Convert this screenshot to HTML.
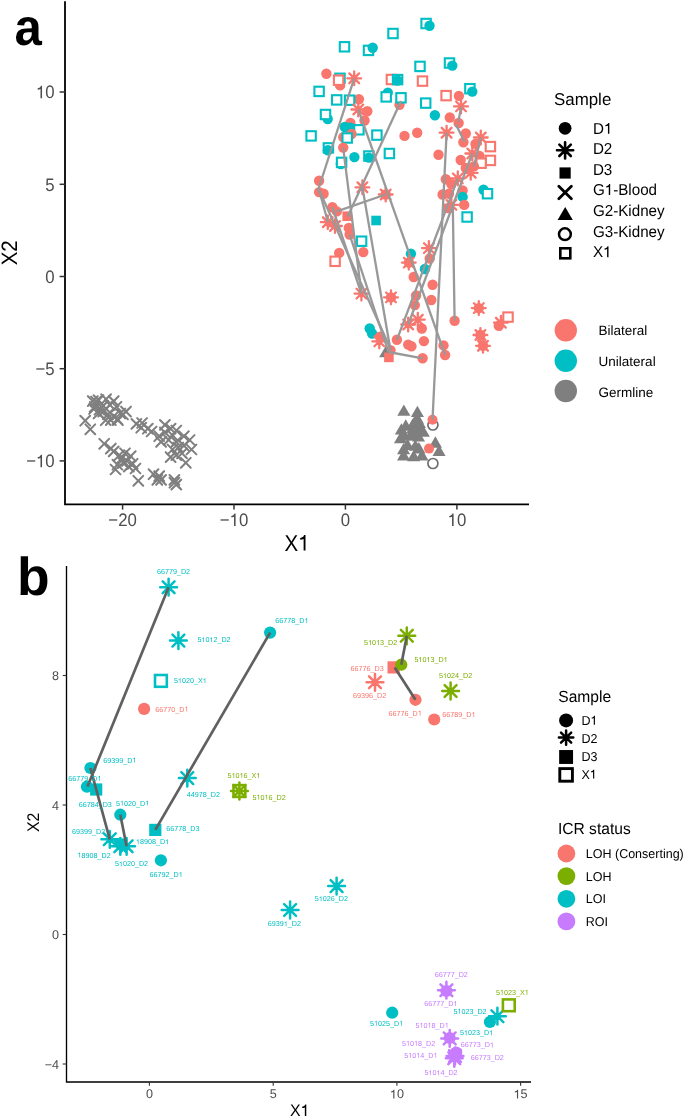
<!DOCTYPE html>
<html><head><meta charset="utf-8"><title>figure</title>
<style>
html,body{margin:0;padding:0;background:#fff;}
body{width:685px;height:1118px;overflow:hidden;}
svg{display:block;font-family:"Liberation Sans",sans-serif;will-change:transform;text-rendering:geometricPrecision;}
</style></head><body>
<svg width="685" height="1118" viewBox="0 0 685 1118">
<rect width="100%" height="100%" fill="#fff"/>
<g>
<path d="M87.9 396.2L97.7 406M87.9 406L97.7 396.2" stroke="#7F7F7F" stroke-width="2.05" fill="none" stroke-linecap="round"/>
<path d="M93.6 395.3L103.4 405.1M93.6 405.1L103.4 395.3" stroke="#7F7F7F" stroke-width="2.05" fill="none" stroke-linecap="round"/>
<path d="M101.2 394.3L111 404.1M101.2 404.1L111 394.3" stroke="#7F7F7F" stroke-width="2.05" fill="none" stroke-linecap="round"/>
<path d="M108.8 396.2L118.6 406M108.8 406L118.6 396.2" stroke="#7F7F7F" stroke-width="2.05" fill="none" stroke-linecap="round"/>
<path d="M89.8 401.9L99.6 411.7M89.8 411.7L99.6 401.9" stroke="#7F7F7F" stroke-width="2.05" fill="none" stroke-linecap="round"/>
<path d="M98.3 401L108.1 410.8M98.3 410.8L108.1 401" stroke="#7F7F7F" stroke-width="2.05" fill="none" stroke-linecap="round"/>
<path d="M105 400L114.8 409.8M105 409.8L114.8 400" stroke="#7F7F7F" stroke-width="2.05" fill="none" stroke-linecap="round"/>
<path d="M111.6 401.9L121.4 411.7M111.6 411.7L121.4 401.9" stroke="#7F7F7F" stroke-width="2.05" fill="none" stroke-linecap="round"/>
<path d="M98.3 406.7L108.1 416.5M98.3 416.5L108.1 406.7" stroke="#7F7F7F" stroke-width="2.05" fill="none" stroke-linecap="round"/>
<path d="M103.1 409.5L112.9 419.3M103.1 419.3L112.9 409.5" stroke="#7F7F7F" stroke-width="2.05" fill="none" stroke-linecap="round"/>
<path d="M108.8 411.4L118.6 421.2M108.8 421.2L118.6 411.4" stroke="#7F7F7F" stroke-width="2.05" fill="none" stroke-linecap="round"/>
<path d="M115.4 408.6L125.2 418.4M115.4 418.4L125.2 408.6" stroke="#7F7F7F" stroke-width="2.05" fill="none" stroke-linecap="round"/>
<path d="M121.1 406.7L130.9 416.5M121.1 416.5L130.9 406.7" stroke="#7F7F7F" stroke-width="2.05" fill="none" stroke-linecap="round"/>
<path d="M94.5 404.8L104.3 414.6M94.5 414.6L104.3 404.8" stroke="#7F7F7F" stroke-width="2.05" fill="none" stroke-linecap="round"/>
<path d="M105.9 415.2L115.7 425M105.9 425L115.7 415.2" stroke="#7F7F7F" stroke-width="2.05" fill="none" stroke-linecap="round"/>
<path d="M112.5 414.3L122.3 424.1M112.5 424.1L122.3 414.3" stroke="#7F7F7F" stroke-width="2.05" fill="none" stroke-linecap="round"/>
<path d="M80.3 415.8L90.1 425.6M80.3 425.6L90.1 415.8" stroke="#7F7F7F" stroke-width="2.05" fill="none" stroke-linecap="round"/>
<path d="M85.4 424.4L95.2 434.2M85.4 434.2L95.2 424.4" stroke="#7F7F7F" stroke-width="2.05" fill="none" stroke-linecap="round"/>
<path d="M89.1 404.1L98.9 413.9M89.1 413.9L98.9 404.1" stroke="#7F7F7F" stroke-width="2.05" fill="none" stroke-linecap="round"/>
<path d="M91.1 396.6L100.9 406.4M91.1 406.4L100.9 396.6" stroke="#7F7F7F" stroke-width="2.05" fill="none" stroke-linecap="round"/>
<path d="M93.6 408.6L103.4 418.4M93.6 418.4L103.4 408.6" stroke="#7F7F7F" stroke-width="2.05" fill="none" stroke-linecap="round"/>
<path d="M100.8 415.3L110.6 425.1M100.8 425.1L110.6 415.3" stroke="#7F7F7F" stroke-width="2.05" fill="none" stroke-linecap="round"/>
<path d="M113 415.3L122.8 425.1M113 425.1L122.8 415.3" stroke="#7F7F7F" stroke-width="2.05" fill="none" stroke-linecap="round"/>
<path d="M118.1 409.6L127.9 419.4M118.1 419.4L127.9 409.6" stroke="#7F7F7F" stroke-width="2.05" fill="none" stroke-linecap="round"/>
<path d="M131.5 419L141.3 428.8M131.5 428.8L141.3 419" stroke="#7F7F7F" stroke-width="2.05" fill="none" stroke-linecap="round"/>
<path d="M137.2 418.1L147 427.9M137.2 427.9L147 418.1" stroke="#7F7F7F" stroke-width="2.05" fill="none" stroke-linecap="round"/>
<path d="M136.3 422.8L146.1 432.6M136.3 432.6L146.1 422.8" stroke="#7F7F7F" stroke-width="2.05" fill="none" stroke-linecap="round"/>
<path d="M142.9 423.8L152.7 433.6M142.9 433.6L152.7 423.8" stroke="#7F7F7F" stroke-width="2.05" fill="none" stroke-linecap="round"/>
<path d="M146.7 426.6L156.5 436.4M146.7 436.4L156.5 426.6" stroke="#7F7F7F" stroke-width="2.05" fill="none" stroke-linecap="round"/>
<path d="M154.3 431.3L164.1 441.1M154.3 441.1L164.1 431.3" stroke="#7F7F7F" stroke-width="2.05" fill="none" stroke-linecap="round"/>
<path d="M160 420L169.8 429.8M160 429.8L169.8 420" stroke="#7F7F7F" stroke-width="2.05" fill="none" stroke-linecap="round"/>
<path d="M165.7 423.8L175.5 433.6M165.7 433.6L175.5 423.8" stroke="#7F7F7F" stroke-width="2.05" fill="none" stroke-linecap="round"/>
<path d="M156.2 437L166 446.8M156.2 446.8L166 437" stroke="#7F7F7F" stroke-width="2.05" fill="none" stroke-linecap="round"/>
<path d="M160 427.5L169.8 437.3M160 437.3L169.8 427.5" stroke="#7F7F7F" stroke-width="2.05" fill="none" stroke-linecap="round"/>
<path d="M167.6 430.4L177.4 440.2M167.6 440.2L177.4 430.4" stroke="#7F7F7F" stroke-width="2.05" fill="none" stroke-linecap="round"/>
<path d="M171.4 425.6L181.2 435.4M171.4 435.4L181.2 425.6" stroke="#7F7F7F" stroke-width="2.05" fill="none" stroke-linecap="round"/>
<path d="M163.8 435.1L173.6 444.9M163.8 444.9L173.6 435.1" stroke="#7F7F7F" stroke-width="2.05" fill="none" stroke-linecap="round"/>
<path d="M171.4 437L181.2 446.8M171.4 446.8L181.2 437" stroke="#7F7F7F" stroke-width="2.05" fill="none" stroke-linecap="round"/>
<path d="M179 431.3L188.8 441.1M179 441.1L188.8 431.3" stroke="#7F7F7F" stroke-width="2.05" fill="none" stroke-linecap="round"/>
<path d="M184.7 435.1L194.5 444.9M184.7 444.9L194.5 435.1" stroke="#7F7F7F" stroke-width="2.05" fill="none" stroke-linecap="round"/>
<path d="M167.6 444.6L177.4 454.4M167.6 454.4L177.4 444.6" stroke="#7F7F7F" stroke-width="2.05" fill="none" stroke-linecap="round"/>
<path d="M173.3 442.7L183.1 452.5M173.3 452.5L183.1 442.7" stroke="#7F7F7F" stroke-width="2.05" fill="none" stroke-linecap="round"/>
<path d="M179 440.8L188.8 450.6M179 450.6L188.8 440.8" stroke="#7F7F7F" stroke-width="2.05" fill="none" stroke-linecap="round"/>
<path d="M186.6 444.6L196.4 454.4M186.6 454.4L196.4 444.6" stroke="#7F7F7F" stroke-width="2.05" fill="none" stroke-linecap="round"/>
<path d="M171.4 450.3L181.2 460.1M171.4 460.1L181.2 450.3" stroke="#7F7F7F" stroke-width="2.05" fill="none" stroke-linecap="round"/>
<path d="M177.1 448.4L186.9 458.2M177.1 458.2L186.9 448.4" stroke="#7F7F7F" stroke-width="2.05" fill="none" stroke-linecap="round"/>
<path d="M180.9 457.9L190.7 467.7M180.9 467.7L190.7 457.9" stroke="#7F7F7F" stroke-width="2.05" fill="none" stroke-linecap="round"/>
<path d="M165.7 452.2L175.5 462M165.7 462L175.5 452.2" stroke="#7F7F7F" stroke-width="2.05" fill="none" stroke-linecap="round"/>
<path d="M99.3 438.9L109.1 448.7M99.3 448.7L109.1 438.9" stroke="#7F7F7F" stroke-width="2.05" fill="none" stroke-linecap="round"/>
<path d="M105.9 443.7L115.7 453.5M105.9 453.5L115.7 443.7" stroke="#7F7F7F" stroke-width="2.05" fill="none" stroke-linecap="round"/>
<path d="M108.8 446.5L118.6 456.3M108.8 456.3L118.6 446.5" stroke="#7F7F7F" stroke-width="2.05" fill="none" stroke-linecap="round"/>
<path d="M114.4 450.3L124.2 460.1M114.4 460.1L124.2 450.3" stroke="#7F7F7F" stroke-width="2.05" fill="none" stroke-linecap="round"/>
<path d="M120.1 448.4L129.9 458.2M120.1 458.2L129.9 448.4" stroke="#7F7F7F" stroke-width="2.05" fill="none" stroke-linecap="round"/>
<path d="M125.8 451.3L135.6 461.1M125.8 461.1L135.6 451.3" stroke="#7F7F7F" stroke-width="2.05" fill="none" stroke-linecap="round"/>
<path d="M116.3 454.1L126.1 463.9M116.3 463.9L126.1 454.1" stroke="#7F7F7F" stroke-width="2.05" fill="none" stroke-linecap="round"/>
<path d="M122 456L131.8 465.8M122 465.8L131.8 456" stroke="#7F7F7F" stroke-width="2.05" fill="none" stroke-linecap="round"/>
<path d="M112.5 459.8L122.3 469.6M112.5 469.6L122.3 459.8" stroke="#7F7F7F" stroke-width="2.05" fill="none" stroke-linecap="round"/>
<path d="M118.2 457.9L128 467.7M118.2 467.7L128 457.9" stroke="#7F7F7F" stroke-width="2.05" fill="none" stroke-linecap="round"/>
<path d="M127.7 458.9L137.5 468.7M127.7 468.7L137.5 458.9" stroke="#7F7F7F" stroke-width="2.05" fill="none" stroke-linecap="round"/>
<path d="M110.6 464.6L120.4 474.4M110.6 474.4L120.4 464.6" stroke="#7F7F7F" stroke-width="2.05" fill="none" stroke-linecap="round"/>
<path d="M123.9 461.7L133.7 471.5M123.9 471.5L133.7 461.7" stroke="#7F7F7F" stroke-width="2.05" fill="none" stroke-linecap="round"/>
<path d="M130.6 463.6L140.4 473.4M130.6 473.4L140.4 463.6" stroke="#7F7F7F" stroke-width="2.05" fill="none" stroke-linecap="round"/>
<path d="M133.4 475.9L143.2 485.7M133.4 485.7L143.2 475.9" stroke="#7F7F7F" stroke-width="2.05" fill="none" stroke-linecap="round"/>
<path d="M148.6 469.3L158.4 479.1M148.6 479.1L158.4 469.3" stroke="#7F7F7F" stroke-width="2.05" fill="none" stroke-linecap="round"/>
<path d="M154.3 471.2L164.1 481M154.3 481L164.1 471.2" stroke="#7F7F7F" stroke-width="2.05" fill="none" stroke-linecap="round"/>
<path d="M156.2 475L166 484.8M156.2 484.8L166 475" stroke="#7F7F7F" stroke-width="2.05" fill="none" stroke-linecap="round"/>
<path d="M152.4 475L162.2 484.8M152.4 484.8L162.2 475" stroke="#7F7F7F" stroke-width="2.05" fill="none" stroke-linecap="round"/>
<path d="M169.5 475L179.3 484.8M169.5 484.8L179.3 475" stroke="#7F7F7F" stroke-width="2.05" fill="none" stroke-linecap="round"/>
<path d="M171.4 479.7L181.2 489.5M171.4 489.5L181.2 479.7" stroke="#7F7F7F" stroke-width="2.05" fill="none" stroke-linecap="round"/>
<path d="M169.5 477.8L179.3 487.6M169.5 487.6L179.3 477.8" stroke="#7F7F7F" stroke-width="2.05" fill="none" stroke-linecap="round"/>
<path d="M403.84 404.38L410.39 415.78L397.29 415.78Z" fill="#7F7F7F"/>
<path d="M417.42 405.69L423.97 417.09L410.87 417.09Z" fill="#7F7F7F"/>
<path d="M419.34 416.64L425.89 428.04L412.79 428.04Z" fill="#7F7F7F"/>
<path d="M423.28 425.4L429.83 436.8L416.73 436.8Z" fill="#7F7F7F"/>
<path d="M405.77 419.27L412.32 430.67L399.22 430.67Z" fill="#7F7F7F"/>
<path d="M401.39 423.21L407.94 434.61L394.84 434.61Z" fill="#7F7F7F"/>
<path d="M412.77 421.9L419.32 433.3L406.22 433.3Z" fill="#7F7F7F"/>
<path d="M400.51 431.97L407.06 443.37L393.96 443.37Z" fill="#7F7F7F"/>
<path d="M413.65 428.9L420.2 440.3L407.1 440.3Z" fill="#7F7F7F"/>
<path d="M407.52 438.54L414.07 449.94L400.97 449.94Z" fill="#7F7F7F"/>
<path d="M403.58 442.92L410.13 454.32L397.03 454.32Z" fill="#7F7F7F"/>
<path d="M403.58 449.05L410.13 460.45L397.03 460.45Z" fill="#7F7F7F"/>
<path d="M415.4 439.41L421.95 450.81L408.85 450.81Z" fill="#7F7F7F"/>
<path d="M421.97 449.05L428.52 460.45L415.42 460.45Z" fill="#7F7F7F"/>
<path d="M413.65 449.93L420.2 461.33L407.1 461.33Z" fill="#7F7F7F"/>
<path d="M435.37 436.35L441.92 447.75L428.82 447.75Z" fill="#7F7F7F"/>
<path d="M439.05 444.67L445.6 456.07L432.5 456.07Z" fill="#7F7F7F"/>
<path d="M418.9 442.04L425.45 453.44L412.35 453.44Z" fill="#7F7F7F"/>
<path d="M417.4 412.3L423.95 423.7L410.85 423.7Z" fill="#7F7F7F"/>
<path d="M404 428.9L410.55 440.3L397.45 440.3Z" fill="#7F7F7F"/>
<path d="M415 415L421.55 426.4L408.45 426.4Z" fill="#7F7F7F"/>
<path d="M412.7 418.5L419.25 429.9L406.15 429.9Z" fill="#7F7F7F"/>
<path d="M418.5 418.5L425.05 429.9L411.95 429.9Z" fill="#7F7F7F"/>
<path d="M415 424.4L421.55 435.8L408.45 435.8Z" fill="#7F7F7F"/>
<path d="M420.9 424.4L427.45 435.8L414.35 435.8Z" fill="#7F7F7F"/>
<path d="M410.4 429.1L416.95 440.5L403.85 440.5Z" fill="#7F7F7F"/>
<path d="M418.5 430.2L425.05 441.6L411.95 441.6Z" fill="#7F7F7F"/>
<circle cx="432.9" cy="425" r="5" fill="none" stroke="#6f6f6f" stroke-width="1.7"/>
<circle cx="432.9" cy="463.5" r="5" fill="none" stroke="#6f6f6f" stroke-width="1.7"/>
<circle cx="432.5" cy="419.7" r="5" fill="#F8766D"/>
<circle cx="429" cy="448.6" r="5" fill="#F8766D"/>
<rect x="421.4" y="18.8" width="9.4" height="9.4" fill="#fff" stroke="#00BFC4" stroke-width="2.1"/>
<circle cx="429.5" cy="25.7" r="5.2" fill="#00BFC4"/>
<rect x="388.3" y="28.8" width="9.4" height="9.4" fill="#fff" stroke="#00BFC4" stroke-width="2.1"/>
<rect x="339.8" y="42.1" width="9.4" height="9.4" fill="#fff" stroke="#00BFC4" stroke-width="2.1"/>
<rect x="363.8" y="45.7" width="9.4" height="9.4" fill="#fff" stroke="#00BFC4" stroke-width="2.1"/>
<circle cx="372.7" cy="47.8" r="5.2" fill="#00BFC4"/>
<rect x="415.3" y="61.7" width="9.4" height="9.4" fill="#fff" stroke="#00BFC4" stroke-width="2.1"/>
<rect x="444.8" y="58.3" width="9.4" height="9.4" fill="#fff" stroke="#00BFC4" stroke-width="2.1"/>
<circle cx="452.3" cy="65.6" r="5.2" fill="#00BFC4"/>
<circle cx="326.4" cy="73.7" r="5.2" fill="#F8766D"/>
<rect x="335.3" y="73.6" width="9.4" height="9.4" fill="#fff" stroke="#00BFC4" stroke-width="2.1"/>
<circle cx="340.1" cy="85.4" r="5.2" fill="#F8766D"/>
<rect x="333.9" y="75.5" width="9.4" height="9.4" fill="#fff" stroke="#F8766D" stroke-width="2.1"/>
<path d="M347.3 78.3H361.1M354.2 71.4V85.2M349.32 73.42L359.08 83.18M349.32 83.18L359.08 73.42" stroke="#F8766D" stroke-width="2.3" fill="none" stroke-linecap="round"/>
<rect x="386.7" y="74.8" width="9.4" height="9.4" fill="#fff" stroke="#F8766D" stroke-width="2.1"/>
<rect x="392.9" y="74.9" width="9.4" height="9.4" fill="#fff" stroke="#00BFC4" stroke-width="2.1"/>
<circle cx="397.4" cy="80.5" r="5.2" fill="#00BFC4"/>
<rect x="417.8" y="76.4" width="9.4" height="9.4" fill="#fff" stroke="#F8766D" stroke-width="2.1"/>
<rect x="314.4" y="86.7" width="9.4" height="9.4" fill="#fff" stroke="#00BFC4" stroke-width="2.1"/>
<circle cx="358.9" cy="99.2" r="5.2" fill="#F8766D"/>
<rect x="332" y="95.2" width="9.4" height="9.4" fill="#fff" stroke="#00BFC4" stroke-width="2.1"/>
<rect x="344.9" y="95.5" width="9.4" height="9.4" fill="#fff" stroke="#00BFC4" stroke-width="2.1"/>
<circle cx="387.8" cy="92.6" r="5.2" fill="#00BFC4"/>
<rect x="381.5" y="92.2" width="9.4" height="9.4" fill="#fff" stroke="#00BFC4" stroke-width="2.1"/>
<circle cx="399.5" cy="104.7" r="5.2" fill="#F8766D"/>
<rect x="396.3" y="93.1" width="9.4" height="9.4" fill="#fff" stroke="#00BFC4" stroke-width="2.1"/>
<path d="M351.4 109.5H365.2M358.3 102.6V116.4M353.42 104.62L363.18 114.38M353.42 114.38L363.18 104.62" stroke="#F8766D" stroke-width="2.3" fill="none" stroke-linecap="round"/>
<circle cx="367.3" cy="111.2" r="5.2" fill="#F8766D"/>
<circle cx="364.5" cy="120.5" r="5.2" fill="#F8766D"/>
<circle cx="327.7" cy="119" r="5.2" fill="#00BFC4"/>
<rect x="320.8" y="109.8" width="9.4" height="9.4" fill="#fff" stroke="#00BFC4" stroke-width="2.1"/>
<rect x="441.4" y="90.9" width="9.4" height="9.4" fill="#fff" stroke="#F8766D" stroke-width="2.1"/>
<circle cx="458.9" cy="95.9" r="5.2" fill="#F8766D"/>
<rect x="465.2" y="84" width="9.4" height="9.4" fill="#fff" stroke="#00BFC4" stroke-width="2.1"/>
<circle cx="472.3" cy="91.6" r="5.2" fill="#00BFC4"/>
<rect x="421" y="98.4" width="9.4" height="9.4" fill="#fff" stroke="#00BFC4" stroke-width="2.1"/>
<circle cx="434.9" cy="115.2" r="5.2" fill="#00BFC4"/>
<path d="M454.1 106.4H467.9M461 99.5V113.3M456.12 101.52L465.88 111.28M456.12 111.28L465.88 101.52" stroke="#F8766D" stroke-width="2.3" fill="none" stroke-linecap="round"/>
<circle cx="449.8" cy="117.5" r="5.2" fill="#F8766D"/>
<circle cx="458.6" cy="123" r="5.2" fill="#F8766D"/>
<circle cx="350.4" cy="123" r="5.2" fill="#F8766D"/>
<circle cx="344.8" cy="127" r="5.2" fill="#00BFC4"/>
<circle cx="350.4" cy="127.8" r="5.2" fill="#00BFC4"/>
<rect x="354.2" y="125.1" width="9.4" height="9.4" fill="#fff" stroke="#00BFC4" stroke-width="2.1"/>
<rect x="306.4" y="131.2" width="9.4" height="9.4" fill="#fff" stroke="#00BFC4" stroke-width="2.1"/>
<circle cx="351.5" cy="134" r="5.2" fill="#F8766D"/>
<circle cx="343.3" cy="137.3" r="5.2" fill="#F8766D"/>
<rect x="342.5" y="133.3" width="9.4" height="9.4" fill="#fff" stroke="#00BFC4" stroke-width="2.1"/>
<rect x="372.2" y="130.4" width="9.4" height="9.4" fill="#fff" stroke="#00BFC4" stroke-width="2.1"/>
<circle cx="404.5" cy="135.9" r="5.2" fill="#F8766D"/>
<rect x="323.7" y="143.2" width="9.4" height="9.4" fill="#fff" stroke="#00BFC4" stroke-width="2.1"/>
<circle cx="327.9" cy="150.3" r="5.2" fill="#00BFC4"/>
<circle cx="343.2" cy="147.6" r="5.2" fill="#F8766D"/>
<circle cx="354.4" cy="157.1" r="5.2" fill="#00BFC4"/>
<rect x="364.2" y="151.3" width="9.4" height="9.4" fill="#fff" stroke="#00BFC4" stroke-width="2.1"/>
<circle cx="368.9" cy="157.6" r="5.2" fill="#00BFC4"/>
<circle cx="340.8" cy="164" r="5.2" fill="#00BFC4"/>
<rect x="336.9" y="157.7" width="9.4" height="9.4" fill="#fff" stroke="#00BFC4" stroke-width="2.1"/>
<rect x="384.7" y="148.8" width="9.4" height="9.4" fill="#fff" stroke="#00BFC4" stroke-width="2.1"/>
<circle cx="319.1" cy="180.8" r="5.2" fill="#F8766D"/>
<circle cx="319.1" cy="192.1" r="5.2" fill="#F8766D"/>
<circle cx="323.6" cy="193.7" r="5.2" fill="#F8766D"/>
<path d="M355.5 187.3H369.3M362.4 180.4V194.2M357.52 182.42L367.28 192.18M357.52 192.18L367.28 182.42" stroke="#F8766D" stroke-width="2.3" fill="none" stroke-linecap="round"/>
<circle cx="385.7" cy="194.5" r="5.2" fill="#F8766D"/>
<path d="M378.8 194.5H392.6M385.7 187.6V201.4M380.82 189.62L390.58 199.38M380.82 199.38L390.58 189.62" stroke="#F8766D" stroke-width="2.3" fill="none" stroke-linecap="round"/>
<circle cx="332.4" cy="207.3" r="5.2" fill="#F8766D"/>
<circle cx="336.8" cy="211.4" r="5.2" fill="#F8766D"/>
<rect x="342.4" y="211.4" width="9.6" height="9.6" fill="#F8766D"/>
<rect x="371.3" y="215.7" width="9.6" height="9.6" fill="#00BFC4"/>
<path d="M320.9 222.2H334.7M327.8 215.3V229.1M322.92 217.32L332.68 227.08M322.92 227.08L332.68 217.32" stroke="#F8766D" stroke-width="2.3" fill="none" stroke-linecap="round"/>
<path d="M328.1 226H341.9M335 219.1V232.9M330.12 221.12L339.88 230.88M330.12 230.88L339.88 221.12" stroke="#F8766D" stroke-width="2.3" fill="none" stroke-linecap="round"/>
<circle cx="417.2" cy="132.7" r="5.2" fill="#F8766D"/>
<path d="M439.7 132.7H453.5M446.6 125.8V139.6M441.72 127.82L451.48 137.58M441.72 137.58L451.48 127.82" stroke="#F8766D" stroke-width="2.3" fill="none" stroke-linecap="round"/>
<circle cx="465.8" cy="133.5" r="5.2" fill="#F8766D"/>
<circle cx="463.4" cy="142.3" r="5.2" fill="#F8766D"/>
<path d="M473.9 137.5H487.7M480.8 130.6V144.4M475.92 132.62L485.68 142.38M475.92 142.38L485.68 132.62" stroke="#F8766D" stroke-width="2.3" fill="none" stroke-linecap="round"/>
<circle cx="475.5" cy="143.9" r="5.2" fill="#F8766D"/>
<rect x="485.7" y="141.9" width="9.4" height="9.4" fill="#fff" stroke="#F8766D" stroke-width="2.1"/>
<circle cx="438.5" cy="154.8" r="5.2" fill="#F8766D"/>
<path d="M465.4 153.5H479.2M472.3 146.6V160.4M467.42 148.62L477.18 158.38M467.42 158.38L477.18 148.62" stroke="#F8766D" stroke-width="2.3" fill="none" stroke-linecap="round"/>
<circle cx="460.7" cy="160" r="5.2" fill="#F8766D"/>
<circle cx="479.5" cy="156" r="5.2" fill="#F8766D"/>
<rect x="485.7" y="155.7" width="9.4" height="9.4" fill="#fff" stroke="#F8766D" stroke-width="2.1"/>
<rect x="476.4" y="158.5" width="9.4" height="9.4" fill="#fff" stroke="#F8766D" stroke-width="2.1"/>
<circle cx="465.8" cy="168" r="5.2" fill="#F8766D"/>
<path d="M463.8 172.8H477.6M470.7 165.9V179.7M465.82 167.92L475.58 177.68M465.82 177.68L475.58 167.92" stroke="#F8766D" stroke-width="2.3" fill="none" stroke-linecap="round"/>
<circle cx="473.9" cy="166.4" r="5.2" fill="#F8766D"/>
<circle cx="445.8" cy="179.2" r="5.2" fill="#F8766D"/>
<path d="M450.9 178.4H464.7M457.8 171.5V185.3M452.92 173.52L462.68 183.28M452.92 183.28L462.68 173.52" stroke="#F8766D" stroke-width="2.3" fill="none" stroke-linecap="round"/>
<circle cx="451.4" cy="184" r="5.2" fill="#F8766D"/>
<circle cx="462.6" cy="190.5" r="5.2" fill="#F8766D"/>
<circle cx="442.6" cy="194.5" r="5.2" fill="#F8766D"/>
<circle cx="449" cy="193.7" r="5.2" fill="#F8766D"/>
<circle cx="462.6" cy="196.9" r="5.2" fill="#00BFC4"/>
<circle cx="483.5" cy="189.7" r="5.2" fill="#00BFC4"/>
<rect x="482.8" y="189" width="9.4" height="9.4" fill="#fff" stroke="#00BFC4" stroke-width="2.1"/>
<path d="M444.5 204.9H458.3M451.4 198V211.8M446.52 200.02L456.28 209.78M446.52 209.78L456.28 200.02" stroke="#F8766D" stroke-width="2.3" fill="none" stroke-linecap="round"/>
<circle cx="464.2" cy="204.9" r="5.2" fill="#F8766D"/>
<rect x="462.4" y="212.3" width="9.4" height="9.4" fill="#fff" stroke="#00BFC4" stroke-width="2.1"/>
<circle cx="448.2" cy="208.1" r="5.2" fill="#F8766D"/>
<circle cx="348.8" cy="228" r="5.2" fill="#F8766D"/>
<circle cx="349.6" cy="234.5" r="5.2" fill="#F8766D"/>
<rect x="356.9" y="236.5" width="9.4" height="9.4" fill="#fff" stroke="#00BFC4" stroke-width="2.1"/>
<circle cx="339.2" cy="252.9" r="5.2" fill="#F8766D"/>
<rect x="330.4" y="256.6" width="9.4" height="9.4" fill="#fff" stroke="#F8766D" stroke-width="2.1"/>
<circle cx="363.3" cy="252.1" r="5.2" fill="#F8766D"/>
<path d="M354.5 293.6H368.3M361.4 286.7V300.5M356.52 288.72L366.28 298.48M356.52 298.48L366.28 288.72" stroke="#F8766D" stroke-width="2.3" fill="none" stroke-linecap="round"/>
<circle cx="391" cy="297.4" r="5.2" fill="#F8766D"/>
<path d="M384.1 297.4H397.9M391 290.5V304.3M386.12 292.52L395.88 302.28M386.12 302.28L395.88 292.52" stroke="#F8766D" stroke-width="2.3" fill="none" stroke-linecap="round"/>
<circle cx="369.7" cy="328.5" r="5.2" fill="#00BFC4"/>
<circle cx="372.1" cy="333.5" r="5.2" fill="#00BFC4"/>
<circle cx="410.9" cy="253.7" r="5.2" fill="#00BFC4"/>
<circle cx="408.8" cy="262.6" r="5.2" fill="#F8766D"/>
<path d="M401.9 262.6H415.7M408.8 255.7V269.5M403.92 257.72L413.68 267.48M403.92 267.48L413.68 257.72" stroke="#F8766D" stroke-width="2.3" fill="none" stroke-linecap="round"/>
<path d="M422 248.1H435.8M428.9 241.2V255M424.02 243.22L433.78 252.98M424.02 252.98L433.78 243.22" stroke="#F8766D" stroke-width="2.3" fill="none" stroke-linecap="round"/>
<circle cx="429.7" cy="258.5" r="5.2" fill="#F8766D"/>
<circle cx="424.9" cy="269" r="5.2" fill="#00BFC4"/>
<circle cx="413.7" cy="277" r="5.2" fill="#F8766D"/>
<circle cx="432.6" cy="284.7" r="5.2" fill="#F8766D"/>
<circle cx="416.1" cy="295.5" r="5.2" fill="#F8766D"/>
<circle cx="431.3" cy="300" r="5.2" fill="#F8766D"/>
<circle cx="414.8" cy="305.1" r="5.2" fill="#F8766D"/>
<circle cx="478.8" cy="308.1" r="5.2" fill="#F8766D"/>
<path d="M471.9 308.1H485.7M478.8 301.2V315M473.92 303.22L483.68 312.98M473.92 312.98L483.68 303.22" stroke="#F8766D" stroke-width="2.3" fill="none" stroke-linecap="round"/>
<circle cx="454.6" cy="320.8" r="5.2" fill="#F8766D"/>
<path d="M410.9 319.7H424.7M417.8 312.8V326.6M412.92 314.82L422.68 324.58M412.92 324.58L422.68 314.82" stroke="#F8766D" stroke-width="2.3" fill="none" stroke-linecap="round"/>
<circle cx="421.8" cy="328.5" r="5.2" fill="#F8766D"/>
<circle cx="498.8" cy="325.8" r="5.2" fill="#F8766D"/>
<path d="M494 322.7H507.8M500.9 315.8V329.6M496.02 317.82L505.78 327.58M496.02 327.58L505.78 317.82" stroke="#F8766D" stroke-width="2.3" fill="none" stroke-linecap="round"/>
<rect x="503.3" y="312.4" width="9.4" height="9.4" fill="#fff" stroke="#F8766D" stroke-width="2.1"/>
<path d="M401.3 324.5H415.1M408.2 317.6V331.4M403.32 319.62L413.08 329.38M403.32 329.38L413.08 319.62" stroke="#F8766D" stroke-width="2.3" fill="none" stroke-linecap="round"/>
<circle cx="480.4" cy="335" r="5.2" fill="#F8766D"/>
<path d="M473.5 335H487.3M480.4 328.1V341.9M475.52 330.12L485.28 339.88M475.52 339.88L485.28 330.12" stroke="#F8766D" stroke-width="2.3" fill="none" stroke-linecap="round"/>
<circle cx="483" cy="345.8" r="5.2" fill="#F8766D"/>
<path d="M476.1 345.8H489.9M483 338.9V352.7M478.12 340.92L487.88 350.68M478.12 350.68L487.88 340.92" stroke="#F8766D" stroke-width="2.3" fill="none" stroke-linecap="round"/>
<circle cx="380" cy="336.6" r="5.2" fill="#F8766D"/>
<path d="M372.4 341.4H386.2M379.3 334.5V348.3M374.42 336.52L384.18 346.28M374.42 346.28L384.18 336.52" stroke="#F8766D" stroke-width="2.3" fill="none" stroke-linecap="round"/>
<circle cx="396.9" cy="339.8" r="5.2" fill="#F8766D"/>
<circle cx="408.2" cy="344.6" r="5.2" fill="#F8766D"/>
<circle cx="411.4" cy="346.2" r="5.2" fill="#F8766D"/>
<circle cx="423.9" cy="341.1" r="5.2" fill="#F8766D"/>
<circle cx="390.5" cy="350.2" r="5.2" fill="#F8766D"/>
<path d="M385.7 345.9L392.25 357.3L379.15 357.3Z" fill="#7F7F7F"/>
<rect x="384.1" y="352.6" width="9.6" height="9.6" fill="#F8766D"/>
<circle cx="422.6" cy="358.3" r="5.2" fill="#F8766D"/>
<circle cx="443.5" cy="345.4" r="5.2" fill="#F8766D"/>
<circle cx="445.1" cy="355" r="5.2" fill="#F8766D"/>
</g>
<path d="M354.2 78.3L317.8 191" stroke="#999999" stroke-width="2.3" fill="none" stroke-linecap="butt"/>
<path d="M319.1 190L327.9 222" stroke="#999999" stroke-width="2.3" fill="none" stroke-linecap="butt"/>
<path d="M319.1 190L391 350" stroke="#999999" stroke-width="2.3" fill="none" stroke-linecap="butt"/>
<path d="M332.4 207.3L361.4 293.6" stroke="#999999" stroke-width="2.3" fill="none" stroke-linecap="butt"/>
<path d="M349.6 234.5L388.5 352" stroke="#999999" stroke-width="2.3" fill="none" stroke-linecap="butt"/>
<path d="M336.8 211.4L385.7 194.5" stroke="#999999" stroke-width="2.3" fill="none" stroke-linecap="butt"/>
<path d="M343.2 147.6L361.4 293.6" stroke="#999999" stroke-width="2.3" fill="none" stroke-linecap="butt"/>
<path d="M401 101L347.7 216.4" stroke="#999999" stroke-width="2.3" fill="none" stroke-linecap="butt"/>
<path d="M362.4 187.3L390.5 350.2" stroke="#999999" stroke-width="2.3" fill="none" stroke-linecap="butt"/>
<path d="M358.3 109.5L445.1 355" stroke="#999999" stroke-width="2.3" fill="none" stroke-linecap="butt"/>
<path d="M446.6 132.7L432.5 419.7" stroke="#999999" stroke-width="2.3" fill="none" stroke-linecap="butt"/>
<path d="M472.3 153.5L408.2 324.5" stroke="#999999" stroke-width="2.3" fill="none" stroke-linecap="butt"/>
<path d="M480.8 137.5L473.9 166.4" stroke="#999999" stroke-width="2.3" fill="none" stroke-linecap="butt"/>
<path d="M461.3 106.7L458.2 122" stroke="#999999" stroke-width="2.3" fill="none" stroke-linecap="butt"/>
<path d="M455.8 124.2L464.5 141.8" stroke="#999999" stroke-width="2.3" fill="none" stroke-linecap="butt"/>
<path d="M452.8 204.9L454.6 320.8" stroke="#999999" stroke-width="2.3" fill="none" stroke-linecap="butt"/>
<path d="M388.5 352L422.6 358.3" stroke="#999999" stroke-width="2.3" fill="none" stroke-linecap="butt"/>
<path d="M457.8 178.4L396.9 339.8" stroke="#999999" stroke-width="2.3" fill="none" stroke-linecap="butt"/>
<path d="M65.0 1.2V504.4H529.0" stroke="#000" stroke-width="1.8" fill="none"/>
<path d="M122.6 504.4v5.2" stroke="#333333" stroke-width="1.5"/>
<g transform="translate(122.6 526) scale(1.0000 1.0800)" fill="#4D4D4D">
<text x="-14.25" y="0" font-size="16.8" font-weight="normal">&#8722;20</text>
</g>
<path d="M234 504.4v5.2" stroke="#333333" stroke-width="1.5"/>
<g transform="translate(234 526) scale(1.0000 1.0800)" fill="#4D4D4D">
<text x="-14.25" y="0" font-size="16.8" font-weight="normal">&#8722;&#8199;0</text>
<path transform="translate(-4.44 0) scale(16.8)" d="M0.267 0.000L0.359 0.000L0.359 -0.688L0.290 -0.688L0.275 -0.652L0.246 -0.614L0.197 -0.582L0.142 -0.564L0.101 -0.558L0.101 -0.478L0.190 -0.486L0.267 -0.512Z"/>
</g>
<path d="M345.4 504.4v5.2" stroke="#333333" stroke-width="1.5"/>
<g transform="translate(345.4 526) scale(1.0000 1.0800)" fill="#4D4D4D">
<text x="-4.67" y="0" font-size="16.8" font-weight="normal">0</text>
</g>
<path d="M456.9 504.4v5.2" stroke="#333333" stroke-width="1.5"/>
<g transform="translate(456.9 526) scale(1.0000 1.0800)" fill="#4D4D4D">
<text x="-9.34" y="0" font-size="16.8" font-weight="normal">&#8199;0</text>
<path transform="translate(-9.34 0) scale(16.8)" d="M0.267 0.000L0.359 0.000L0.359 -0.688L0.290 -0.688L0.275 -0.652L0.246 -0.614L0.197 -0.582L0.142 -0.564L0.101 -0.558L0.101 -0.478L0.190 -0.486L0.267 -0.512Z"/>
</g>
<path d="M65.0 92h-5.4" stroke="#333333" stroke-width="1.5"/>
<g transform="translate(54.7 98.3) scale(1.0000 1.0800)" fill="#4D4D4D">
<text x="-18.69" y="0" font-size="16.8" font-weight="normal">&#8199;0</text>
<path transform="translate(-18.69 0) scale(16.8)" d="M0.267 0.000L0.359 0.000L0.359 -0.688L0.290 -0.688L0.275 -0.652L0.246 -0.614L0.197 -0.582L0.142 -0.564L0.101 -0.558L0.101 -0.478L0.190 -0.486L0.267 -0.512Z"/>
</g>
<path d="M65.0 184.3h-5.4" stroke="#333333" stroke-width="1.5"/>
<g transform="translate(54.7 190.6) scale(1.0000 1.0800)" fill="#4D4D4D">
<text x="-9.34" y="0" font-size="16.8" font-weight="normal">5</text>
</g>
<path d="M65.0 276.5h-5.4" stroke="#333333" stroke-width="1.5"/>
<g transform="translate(54.7 282.8) scale(1.0000 1.0800)" fill="#4D4D4D">
<text x="-9.34" y="0" font-size="16.8" font-weight="normal">0</text>
</g>
<path d="M65.0 368.7h-5.4" stroke="#333333" stroke-width="1.5"/>
<g transform="translate(54.7 375) scale(1.0000 1.0800)" fill="#4D4D4D">
<text x="-19.15" y="0" font-size="16.8" font-weight="normal">&#8722;5</text>
</g>
<path d="M65.0 460.9h-5.4" stroke="#333333" stroke-width="1.5"/>
<g transform="translate(54.7 467.2) scale(1.0000 1.0800)" fill="#4D4D4D">
<text x="-28.5" y="0" font-size="16.8" font-weight="normal">&#8722;&#8199;0</text>
<path transform="translate(-18.69 0) scale(16.8)" d="M0.267 0.000L0.359 0.000L0.359 -0.688L0.290 -0.688L0.275 -0.652L0.246 -0.614L0.197 -0.582L0.142 -0.564L0.101 -0.558L0.101 -0.478L0.190 -0.486L0.267 -0.512Z"/>
</g>
<g transform="translate(297 550.6) scale(1.0000 1.1100)" fill="#000">
<text x="-12.54" y="0" font-size="20.5" font-weight="normal">X&#8199;</text>
<path transform="translate(1.14 0) scale(20.5)" d="M0.267 0.000L0.359 0.000L0.359 -0.688L0.290 -0.688L0.275 -0.652L0.246 -0.614L0.197 -0.582L0.142 -0.564L0.101 -0.558L0.101 -0.478L0.190 -0.486L0.267 -0.512Z"/>
</g>
<g transform="translate(17 252.8) rotate(-90) scale(1.0000 1.0900)" fill="#000">
<text x="-12.54" y="0" font-size="20.5" font-weight="normal">X2</text>
</g>
<g transform="translate(14.5 44.6) scale(0.9400 1.0000)" fill="#000">
<text x="0" y="0" font-size="52.2" font-weight="bold">a</text>
</g>
<g transform="translate(554 105.3) scale(1.0000 1.0100)" fill="#000">
<text x="0" y="0" font-size="16.9" font-weight="normal">Sample</text>
</g>
<circle cx="565.1" cy="128.3" r="6.35" fill="#000"/>
<path d="M557 150.3H573.2M565.1 142.2V158.4M559.37 144.57L570.83 156.03M559.37 156.03L570.83 144.57" stroke="#000" stroke-width="2.6" fill="none" stroke-linecap="round"/>
<rect x="559.5" y="167.4" width="11.2" height="11.2" fill="#000"/>
<path d="M558.8 186.2L571.4 198.8M558.8 198.8L571.4 186.2" stroke="#000" stroke-width="2.8" fill="none" stroke-linecap="round"/>
<path d="M565.2 207L572.8 219.9L557.6 219.9Z" fill="#000"/>
<circle cx="564.9" cy="234.2" r="5.9" fill="none" stroke="#000" stroke-width="2.5"/>
<rect x="560.3" y="248.3" width="10" height="10" fill="#fff" stroke="#000" stroke-width="2.6"/>
<g transform="translate(592.9 133.8) scale(1.0000 1.0400)" fill="#000">
<text x="0" y="0" font-size="15.2" font-weight="normal">D&#8199;</text>
<path transform="translate(10.98 0) scale(15.2)" d="M0.267 0.000L0.359 0.000L0.359 -0.688L0.290 -0.688L0.275 -0.652L0.246 -0.614L0.197 -0.582L0.142 -0.564L0.101 -0.558L0.101 -0.478L0.190 -0.486L0.267 -0.512Z"/>
</g>
<g transform="translate(592.9 154.3) scale(1.0000 1.0400)" fill="#000">
<text x="0" y="0" font-size="15.2" font-weight="normal">D2</text>
</g>
<g transform="translate(592.9 174.6) scale(1.0000 1.0400)" fill="#000">
<text x="0" y="0" font-size="15.2" font-weight="normal">D3</text>
</g>
<g transform="translate(592.9 195) scale(1.0000 1.0400)" fill="#000">
<text x="0" y="0" font-size="15.2" font-weight="normal">G&#8199;-Blood</text>
<path transform="translate(11.82 0) scale(15.2)" d="M0.267 0.000L0.359 0.000L0.359 -0.688L0.290 -0.688L0.275 -0.652L0.246 -0.614L0.197 -0.582L0.142 -0.564L0.101 -0.558L0.101 -0.478L0.190 -0.486L0.267 -0.512Z"/>
</g>
<g transform="translate(592.9 216.3) scale(1.0000 1.0400)" fill="#000">
<text x="0" y="0" font-size="15.2" font-weight="normal">G2-Kidney</text>
</g>
<g transform="translate(592.9 237.2) scale(1.0000 1.0400)" fill="#000">
<text x="0" y="0" font-size="15.2" font-weight="normal">G3-Kidney</text>
</g>
<g transform="translate(592.9 257.2) scale(1.0000 1.0400)" fill="#000">
<text x="0" y="0" font-size="15.2" font-weight="normal">X&#8199;</text>
<path transform="translate(10.14 0) scale(15.2)" d="M0.267 0.000L0.359 0.000L0.359 -0.688L0.290 -0.688L0.275 -0.652L0.246 -0.614L0.197 -0.582L0.142 -0.564L0.101 -0.558L0.101 -0.478L0.190 -0.486L0.267 -0.512Z"/>
</g>
<circle cx="565.8" cy="330.3" r="11.2" fill="#F8766D"/>
<g transform="translate(598.6 335.4)" fill="#000">
<text x="0" y="0" font-size="13.5" font-weight="normal">Bilateral</text>
</g>
<circle cx="565.8" cy="360.8" r="11.2" fill="#00BFC4"/>
<g transform="translate(598.6 366.4)" fill="#000">
<text x="0" y="0" font-size="13.5" font-weight="normal">Unilateral</text>
</g>
<circle cx="565.8" cy="391" r="11.2" fill="#7F7F7F"/>
<g transform="translate(598.6 396.9)" fill="#000">
<text x="0" y="0" font-size="13.5" font-weight="normal">Germline</text>
</g>
<g>
<path d="M160.2 587.2H177M168.6 578.8V595.6M162.66 581.26L174.54 593.14M162.66 593.14L174.54 581.26" stroke="#00BFC4" stroke-width="2.5" fill="none" stroke-linecap="round"/>
<path d="M170 640.6H186.8M178.4 632.2V649M172.46 634.66L184.34 646.54M172.46 646.54L184.34 634.66" stroke="#00BFC4" stroke-width="2.5" fill="none" stroke-linecap="round"/>
<rect x="155" y="675" width="11.8" height="11.8" fill="#fff" stroke="#00BFC4" stroke-width="2.6"/>
<circle cx="144.1" cy="708.9" r="6.1" fill="#F8766D"/>
<circle cx="270.1" cy="632.6" r="6.1" fill="#00BFC4"/>
<circle cx="90.4" cy="768" r="6.1" fill="#00BFC4"/>
<circle cx="86.9" cy="786.7" r="6.1" fill="#00BFC4"/>
<rect x="90.1" y="783.4" width="12.2" height="12.2" fill="#00BFC4"/>
<circle cx="120.3" cy="814.7" r="6.1" fill="#00BFC4"/>
<rect x="149.2" y="823.8" width="12.2" height="12.2" fill="#00BFC4"/>
<path d="M178.9 778.1H195.7M187.3 769.7V786.5M181.36 772.16L193.24 784.04M181.36 784.04L193.24 772.16" stroke="#00BFC4" stroke-width="2.5" fill="none" stroke-linecap="round"/>
<circle cx="121" cy="844" r="6.1" fill="#00BFC4"/>
<path d="M101.4 839.3H118.2M109.8 830.9V847.7M103.86 833.36L115.74 845.24M103.86 845.24L115.74 833.36" stroke="#00BFC4" stroke-width="2.5" fill="none" stroke-linecap="round"/>
<path d="M111.9 846.3H128.7M120.3 837.9V854.7M114.36 840.36L126.24 852.24M114.36 852.24L126.24 840.36" stroke="#00BFC4" stroke-width="2.5" fill="none" stroke-linecap="round"/>
<path d="M118.2 846.3H135M126.6 837.9V854.7M120.66 840.36L132.54 852.24M120.66 852.24L132.54 840.36" stroke="#00BFC4" stroke-width="2.5" fill="none" stroke-linecap="round"/>
<circle cx="160.9" cy="860.3" r="6.1" fill="#00BFC4"/>
<rect x="233.5" y="785.1" width="11.8" height="11.8" fill="#fff" stroke="#7CAE00" stroke-width="2.6"/>
<path d="M231 791H247.8M239.4 782.6V799.4M233.46 785.06L245.34 796.94M233.46 796.94L245.34 785.06" stroke="#7CAE00" stroke-width="2.5" fill="none" stroke-linecap="round"/>
<path d="M328.2 886.1H345M336.6 877.7V894.5M330.66 880.16L342.54 892.04M330.66 892.04L342.54 880.16" stroke="#00BFC4" stroke-width="2.5" fill="none" stroke-linecap="round"/>
<path d="M281.7 910H298.5M290.1 901.6V918.4M284.16 904.06L296.04 915.94M284.16 915.94L296.04 904.06" stroke="#00BFC4" stroke-width="2.5" fill="none" stroke-linecap="round"/>
<path d="M398.4 635.8H415.2M406.8 627.4V644.2M400.86 629.86L412.74 641.74M400.86 641.74L412.74 629.86" stroke="#7CAE00" stroke-width="2.5" fill="none" stroke-linecap="round"/>
<rect x="387.5" y="661.3" width="12.2" height="12.2" fill="#F8766D"/>
<circle cx="401.3" cy="664.7" r="6.1" fill="#7CAE00"/>
<path d="M366.6 682.3H383.4M375 673.9V690.7M369.06 676.36L380.94 688.24M369.06 688.24L380.94 676.36" stroke="#F8766D" stroke-width="2.5" fill="none" stroke-linecap="round"/>
<circle cx="415.5" cy="699.8" r="6.1" fill="#F8766D"/>
<path d="M442.2 691H459M450.6 682.6V699.4M444.66 685.06L456.54 696.94M444.66 696.94L456.54 685.06" stroke="#7CAE00" stroke-width="2.5" fill="none" stroke-linecap="round"/>
<circle cx="434.2" cy="719.5" r="6.1" fill="#F8766D"/>
<circle cx="446.4" cy="991" r="6.1" fill="#C77CFF"/>
<path d="M438 990.2H454.8M446.4 981.8V998.6M440.46 984.26L452.34 996.14M440.46 996.14L452.34 984.26" stroke="#C77CFF" stroke-width="2.5" fill="none" stroke-linecap="round"/>
<circle cx="392.2" cy="1012.7" r="6.1" fill="#00BFC4"/>
<path d="M489 1016.2H505.8M497.4 1007.8V1024.6M491.46 1010.26L503.34 1022.14M491.46 1022.14L503.34 1010.26" stroke="#00BFC4" stroke-width="2.5" fill="none" stroke-linecap="round"/>
<circle cx="489.9" cy="1022" r="6.1" fill="#00BFC4"/>
<rect x="502.9" y="999.4" width="11.8" height="11.8" fill="#fff" stroke="#7CAE00" stroke-width="2.6"/>
<circle cx="449.7" cy="1038" r="6.1" fill="#C77CFF"/>
<path d="M441.3 1038.4H458.1M449.7 1030V1046.8M443.76 1032.46L455.64 1044.34M443.76 1044.34L455.64 1032.46" stroke="#C77CFF" stroke-width="2.5" fill="none" stroke-linecap="round"/>
<path d="M446.6 1056H463.4M455 1047.6V1064.4M449.06 1050.06L460.94 1061.94M449.06 1061.94L460.94 1050.06" stroke="#C77CFF" stroke-width="2.5" fill="none" stroke-linecap="round"/>
<path d="M445.9 1058.3H462.7M454.3 1049.9V1066.7M448.36 1052.36L460.24 1064.24M448.36 1064.24L460.24 1052.36" stroke="#C77CFF" stroke-width="2.5" fill="none" stroke-linecap="round"/>
<circle cx="456.2" cy="1052.6" r="6.1" fill="#C77CFF"/>
<circle cx="454.6" cy="1054.2" r="6.1" fill="#C77CFF"/>
</g>
<path d="M168.6 587.2L87.5 786.5" stroke="#606060" stroke-width="2.7" fill="none" stroke-linecap="butt"/>
<path d="M90.4 768L109.8 839.3" stroke="#606060" stroke-width="2.7" fill="none" stroke-linecap="butt"/>
<path d="M120.3 814.7L126.6 846.3" stroke="#606060" stroke-width="2.7" fill="none" stroke-linecap="butt"/>
<path d="M270.1 632.6L155.3 829.9" stroke="#606060" stroke-width="2.7" fill="none" stroke-linecap="butt"/>
<path d="M406.8 635.8L401.3 664.7" stroke="#606060" stroke-width="2.7" fill="none" stroke-linecap="butt"/>
<path d="M394.7 667.4L415.5 699.8" stroke="#606060" stroke-width="2.7" fill="none" stroke-linecap="butt"/>
<g>
<g transform="translate(156.9 574.3)" fill="#00BFC4">
<text x="0" y="0" font-size="7.2" font-weight="normal">66779_D2</text>
</g>
<g transform="translate(197.4 642.1)" fill="#00BFC4">
<text x="0" y="0" font-size="7.2" font-weight="normal">5&#8199;0&#8199;2_D2</text>
<path transform="translate(4 0) scale(7.2)" d="M0.267 0.000L0.359 0.000L0.359 -0.688L0.290 -0.688L0.275 -0.652L0.246 -0.614L0.197 -0.582L0.142 -0.564L0.101 -0.558L0.101 -0.478L0.190 -0.486L0.267 -0.512Z"/>
<path transform="translate(12.01 0) scale(7.2)" d="M0.267 0.000L0.359 0.000L0.359 -0.688L0.290 -0.688L0.275 -0.652L0.246 -0.614L0.197 -0.582L0.142 -0.564L0.101 -0.558L0.101 -0.478L0.190 -0.486L0.267 -0.512Z"/>
</g>
<g transform="translate(173.9 683.1)" fill="#00BFC4">
<text x="0" y="0" font-size="7.2" font-weight="normal">5&#8199;020_X&#8199;</text>
<path transform="translate(4 0) scale(7.2)" d="M0.267 0.000L0.359 0.000L0.359 -0.688L0.290 -0.688L0.275 -0.652L0.246 -0.614L0.197 -0.582L0.142 -0.564L0.101 -0.558L0.101 -0.478L0.190 -0.486L0.267 -0.512Z"/>
<path transform="translate(28.83 0) scale(7.2)" d="M0.267 0.000L0.359 0.000L0.359 -0.688L0.290 -0.688L0.275 -0.652L0.246 -0.614L0.197 -0.582L0.142 -0.564L0.101 -0.558L0.101 -0.478L0.190 -0.486L0.267 -0.512Z"/>
</g>
<g transform="translate(155.3 711.5)" fill="#F8766D">
<text x="0" y="0" font-size="7.2" font-weight="normal">66770_D&#8199;</text>
<path transform="translate(29.23 0) scale(7.2)" d="M0.267 0.000L0.359 0.000L0.359 -0.688L0.290 -0.688L0.275 -0.652L0.246 -0.614L0.197 -0.582L0.142 -0.564L0.101 -0.558L0.101 -0.478L0.190 -0.486L0.267 -0.512Z"/>
</g>
<g transform="translate(275.3 623)" fill="#00BFC4">
<text x="0" y="0" font-size="7.2" font-weight="normal">66778_D&#8199;</text>
<path transform="translate(29.23 0) scale(7.2)" d="M0.267 0.000L0.359 0.000L0.359 -0.688L0.290 -0.688L0.275 -0.652L0.246 -0.614L0.197 -0.582L0.142 -0.564L0.101 -0.558L0.101 -0.478L0.190 -0.486L0.267 -0.512Z"/>
</g>
<g transform="translate(103.2 762.5)" fill="#00BFC4">
<text x="0" y="0" font-size="7.2" font-weight="normal">69399_D&#8199;</text>
<path transform="translate(29.23 0) scale(7.2)" d="M0.267 0.000L0.359 0.000L0.359 -0.688L0.290 -0.688L0.275 -0.652L0.246 -0.614L0.197 -0.582L0.142 -0.564L0.101 -0.558L0.101 -0.478L0.190 -0.486L0.267 -0.512Z"/>
</g>
<g transform="translate(68.2 780.7)" fill="#00BFC4">
<text x="0" y="0" font-size="7.2" font-weight="normal">66779_D&#8199;</text>
<path transform="translate(29.23 0) scale(7.2)" d="M0.267 0.000L0.359 0.000L0.359 -0.688L0.290 -0.688L0.275 -0.652L0.246 -0.614L0.197 -0.582L0.142 -0.564L0.101 -0.558L0.101 -0.478L0.190 -0.486L0.267 -0.512Z"/>
</g>
<g transform="translate(78.7 806.8)" fill="#00BFC4">
<text x="0" y="0" font-size="7.2" font-weight="normal">66784_D3</text>
</g>
<g transform="translate(116 805.6)" fill="#00BFC4">
<text x="0" y="0" font-size="7.2" font-weight="normal">5&#8199;020_D&#8199;</text>
<path transform="translate(4 0) scale(7.2)" d="M0.267 0.000L0.359 0.000L0.359 -0.688L0.290 -0.688L0.275 -0.652L0.246 -0.614L0.197 -0.582L0.142 -0.564L0.101 -0.558L0.101 -0.478L0.190 -0.486L0.267 -0.512Z"/>
<path transform="translate(29.23 0) scale(7.2)" d="M0.267 0.000L0.359 0.000L0.359 -0.688L0.290 -0.688L0.275 -0.652L0.246 -0.614L0.197 -0.582L0.142 -0.564L0.101 -0.558L0.101 -0.478L0.190 -0.486L0.267 -0.512Z"/>
</g>
<g transform="translate(166.3 831.4)" fill="#00BFC4">
<text x="0" y="0" font-size="7.2" font-weight="normal">66778_D3</text>
</g>
<g transform="translate(186.8 796.8)" fill="#00BFC4">
<text x="0" y="0" font-size="7.2" font-weight="normal">44978_D2</text>
</g>
<g transform="translate(72.1 833.7)" fill="#00BFC4">
<text x="0" y="0" font-size="7.2" font-weight="normal">69399_D2</text>
</g>
<g transform="translate(77.5 857.5)" fill="#00BFC4">
<text x="0" y="0" font-size="7.2" font-weight="normal">&#8199;8908_D2</text>
<path transform="translate(0 0) scale(7.2)" d="M0.267 0.000L0.359 0.000L0.359 -0.688L0.290 -0.688L0.275 -0.652L0.246 -0.614L0.197 -0.582L0.142 -0.564L0.101 -0.558L0.101 -0.478L0.190 -0.486L0.267 -0.512Z"/>
</g>
<g transform="translate(114.9 866.4)" fill="#00BFC4">
<text x="0" y="0" font-size="7.2" font-weight="normal">5&#8199;020_D2</text>
<path transform="translate(4 0) scale(7.2)" d="M0.267 0.000L0.359 0.000L0.359 -0.688L0.290 -0.688L0.275 -0.652L0.246 -0.614L0.197 -0.582L0.142 -0.564L0.101 -0.558L0.101 -0.478L0.190 -0.486L0.267 -0.512Z"/>
</g>
<g transform="translate(135.9 844.2)" fill="#00BFC4">
<text x="0" y="0" font-size="7.2" font-weight="normal">&#8199;8908_D&#8199;</text>
<path transform="translate(0 0) scale(7.2)" d="M0.267 0.000L0.359 0.000L0.359 -0.688L0.290 -0.688L0.275 -0.652L0.246 -0.614L0.197 -0.582L0.142 -0.564L0.101 -0.558L0.101 -0.478L0.190 -0.486L0.267 -0.512Z"/>
<path transform="translate(29.23 0) scale(7.2)" d="M0.267 0.000L0.359 0.000L0.359 -0.688L0.290 -0.688L0.275 -0.652L0.246 -0.614L0.197 -0.582L0.142 -0.564L0.101 -0.558L0.101 -0.478L0.190 -0.486L0.267 -0.512Z"/>
</g>
<g transform="translate(149.5 876.9)" fill="#00BFC4">
<text x="0" y="0" font-size="7.2" font-weight="normal">66792_D&#8199;</text>
<path transform="translate(29.23 0) scale(7.2)" d="M0.267 0.000L0.359 0.000L0.359 -0.688L0.290 -0.688L0.275 -0.652L0.246 -0.614L0.197 -0.582L0.142 -0.564L0.101 -0.558L0.101 -0.478L0.190 -0.486L0.267 -0.512Z"/>
</g>
<g transform="translate(227.6 777.9)" fill="#7CAE00">
<text x="0" y="0" font-size="7.2" font-weight="normal">5&#8199;0&#8199;6_X&#8199;</text>
<path transform="translate(4 0) scale(7.2)" d="M0.267 0.000L0.359 0.000L0.359 -0.688L0.290 -0.688L0.275 -0.652L0.246 -0.614L0.197 -0.582L0.142 -0.564L0.101 -0.558L0.101 -0.478L0.190 -0.486L0.267 -0.512Z"/>
<path transform="translate(12.01 0) scale(7.2)" d="M0.267 0.000L0.359 0.000L0.359 -0.688L0.290 -0.688L0.275 -0.652L0.246 -0.614L0.197 -0.582L0.142 -0.564L0.101 -0.558L0.101 -0.478L0.190 -0.486L0.267 -0.512Z"/>
<path transform="translate(28.83 0) scale(7.2)" d="M0.267 0.000L0.359 0.000L0.359 -0.688L0.290 -0.688L0.275 -0.652L0.246 -0.614L0.197 -0.582L0.142 -0.564L0.101 -0.558L0.101 -0.478L0.190 -0.486L0.267 -0.512Z"/>
</g>
<g transform="translate(252.5 799.6)" fill="#7CAE00">
<text x="0" y="0" font-size="7.2" font-weight="normal">5&#8199;0&#8199;6_D2</text>
<path transform="translate(4 0) scale(7.2)" d="M0.267 0.000L0.359 0.000L0.359 -0.688L0.290 -0.688L0.275 -0.652L0.246 -0.614L0.197 -0.582L0.142 -0.564L0.101 -0.558L0.101 -0.478L0.190 -0.486L0.267 -0.512Z"/>
<path transform="translate(12.01 0) scale(7.2)" d="M0.267 0.000L0.359 0.000L0.359 -0.688L0.290 -0.688L0.275 -0.652L0.246 -0.614L0.197 -0.582L0.142 -0.564L0.101 -0.558L0.101 -0.478L0.190 -0.486L0.267 -0.512Z"/>
</g>
<g transform="translate(314.8 901.3)" fill="#00BFC4">
<text x="0" y="0" font-size="7.2" font-weight="normal">5&#8199;026_D2</text>
<path transform="translate(4 0) scale(7.2)" d="M0.267 0.000L0.359 0.000L0.359 -0.688L0.290 -0.688L0.275 -0.652L0.246 -0.614L0.197 -0.582L0.142 -0.564L0.101 -0.558L0.101 -0.478L0.190 -0.486L0.267 -0.512Z"/>
</g>
<g transform="translate(267.8 926.3)" fill="#00BFC4">
<text x="0" y="0" font-size="7.2" font-weight="normal">6939&#8199;_D2</text>
<path transform="translate(16.02 0) scale(7.2)" d="M0.267 0.000L0.359 0.000L0.359 -0.688L0.290 -0.688L0.275 -0.652L0.246 -0.614L0.197 -0.582L0.142 -0.564L0.101 -0.558L0.101 -0.478L0.190 -0.486L0.267 -0.512Z"/>
</g>
<g transform="translate(364.1 645)" fill="#7CAE00">
<text x="0" y="0" font-size="7.2" font-weight="normal">5&#8199;0&#8199;3_D2</text>
<path transform="translate(4 0) scale(7.2)" d="M0.267 0.000L0.359 0.000L0.359 -0.688L0.290 -0.688L0.275 -0.652L0.246 -0.614L0.197 -0.582L0.142 -0.564L0.101 -0.558L0.101 -0.478L0.190 -0.486L0.267 -0.512Z"/>
<path transform="translate(12.01 0) scale(7.2)" d="M0.267 0.000L0.359 0.000L0.359 -0.688L0.290 -0.688L0.275 -0.652L0.246 -0.614L0.197 -0.582L0.142 -0.564L0.101 -0.558L0.101 -0.478L0.190 -0.486L0.267 -0.512Z"/>
</g>
<g transform="translate(414.4 661.9)" fill="#7CAE00">
<text x="0" y="0" font-size="7.2" font-weight="normal">5&#8199;0&#8199;3_D&#8199;</text>
<path transform="translate(4 0) scale(7.2)" d="M0.267 0.000L0.359 0.000L0.359 -0.688L0.290 -0.688L0.275 -0.652L0.246 -0.614L0.197 -0.582L0.142 -0.564L0.101 -0.558L0.101 -0.478L0.190 -0.486L0.267 -0.512Z"/>
<path transform="translate(12.01 0) scale(7.2)" d="M0.267 0.000L0.359 0.000L0.359 -0.688L0.290 -0.688L0.275 -0.652L0.246 -0.614L0.197 -0.582L0.142 -0.564L0.101 -0.558L0.101 -0.478L0.190 -0.486L0.267 -0.512Z"/>
<path transform="translate(29.23 0) scale(7.2)" d="M0.267 0.000L0.359 0.000L0.359 -0.688L0.290 -0.688L0.275 -0.652L0.246 -0.614L0.197 -0.582L0.142 -0.564L0.101 -0.558L0.101 -0.478L0.190 -0.486L0.267 -0.512Z"/>
</g>
<g transform="translate(350.5 670.6)" fill="#F8766D">
<text x="0" y="0" font-size="7.2" font-weight="normal">66776_D3</text>
</g>
<g transform="translate(353.1 698)" fill="#F8766D">
<text x="0" y="0" font-size="7.2" font-weight="normal">69396_D2</text>
</g>
<g transform="translate(388.6 715.5)" fill="#F8766D">
<text x="0" y="0" font-size="7.2" font-weight="normal">66776_D&#8199;</text>
<path transform="translate(29.23 0) scale(7.2)" d="M0.267 0.000L0.359 0.000L0.359 -0.688L0.290 -0.688L0.275 -0.652L0.246 -0.614L0.197 -0.582L0.142 -0.564L0.101 -0.558L0.101 -0.478L0.190 -0.486L0.267 -0.512Z"/>
</g>
<g transform="translate(439 678.3)" fill="#7CAE00">
<text x="0" y="0" font-size="7.2" font-weight="normal">5&#8199;024_D2</text>
<path transform="translate(4 0) scale(7.2)" d="M0.267 0.000L0.359 0.000L0.359 -0.688L0.290 -0.688L0.275 -0.652L0.246 -0.614L0.197 -0.582L0.142 -0.564L0.101 -0.558L0.101 -0.478L0.190 -0.486L0.267 -0.512Z"/>
</g>
<g transform="translate(442.3 717)" fill="#F8766D">
<text x="0" y="0" font-size="7.2" font-weight="normal">66789_D&#8199;</text>
<path transform="translate(29.23 0) scale(7.2)" d="M0.267 0.000L0.359 0.000L0.359 -0.688L0.290 -0.688L0.275 -0.652L0.246 -0.614L0.197 -0.582L0.142 -0.564L0.101 -0.558L0.101 -0.478L0.190 -0.486L0.267 -0.512Z"/>
</g>
<g transform="translate(434.7 976.5)" fill="#C77CFF">
<text x="0" y="0" font-size="7.2" font-weight="normal">66777_D2</text>
</g>
<g transform="translate(424.2 1006)" fill="#C77CFF">
<text x="0" y="0" font-size="7.2" font-weight="normal">66777_D&#8199;</text>
<path transform="translate(29.23 0) scale(7.2)" d="M0.267 0.000L0.359 0.000L0.359 -0.688L0.290 -0.688L0.275 -0.652L0.246 -0.614L0.197 -0.582L0.142 -0.564L0.101 -0.558L0.101 -0.478L0.190 -0.486L0.267 -0.512Z"/>
</g>
<g transform="translate(370 1025.8)" fill="#00BFC4">
<text x="0" y="0" font-size="7.2" font-weight="normal">5&#8199;025_D&#8199;</text>
<path transform="translate(4 0) scale(7.2)" d="M0.267 0.000L0.359 0.000L0.359 -0.688L0.290 -0.688L0.275 -0.652L0.246 -0.614L0.197 -0.582L0.142 -0.564L0.101 -0.558L0.101 -0.478L0.190 -0.486L0.267 -0.512Z"/>
<path transform="translate(29.23 0) scale(7.2)" d="M0.267 0.000L0.359 0.000L0.359 -0.688L0.290 -0.688L0.275 -0.652L0.246 -0.614L0.197 -0.582L0.142 -0.564L0.101 -0.558L0.101 -0.478L0.190 -0.486L0.267 -0.512Z"/>
</g>
<g transform="translate(495.9 994.7)" fill="#7CAE00">
<text x="0" y="0" font-size="7.2" font-weight="normal">5&#8199;023_X&#8199;</text>
<path transform="translate(4 0) scale(7.2)" d="M0.267 0.000L0.359 0.000L0.359 -0.688L0.290 -0.688L0.275 -0.652L0.246 -0.614L0.197 -0.582L0.142 -0.564L0.101 -0.558L0.101 -0.478L0.190 -0.486L0.267 -0.512Z"/>
<path transform="translate(28.83 0) scale(7.2)" d="M0.267 0.000L0.359 0.000L0.359 -0.688L0.290 -0.688L0.275 -0.652L0.246 -0.614L0.197 -0.582L0.142 -0.564L0.101 -0.558L0.101 -0.478L0.190 -0.486L0.267 -0.512Z"/>
</g>
<g transform="translate(453.4 1013.6)" fill="#00BFC4">
<text x="0" y="0" font-size="7.2" font-weight="normal">5&#8199;023_D2</text>
<path transform="translate(4 0) scale(7.2)" d="M0.267 0.000L0.359 0.000L0.359 -0.688L0.290 -0.688L0.275 -0.652L0.246 -0.614L0.197 -0.582L0.142 -0.564L0.101 -0.558L0.101 -0.478L0.190 -0.486L0.267 -0.512Z"/>
</g>
<g transform="translate(459.9 1035.2)" fill="#00BFC4">
<text x="0" y="0" font-size="7.2" font-weight="normal">5&#8199;023_D&#8199;</text>
<path transform="translate(4 0) scale(7.2)" d="M0.267 0.000L0.359 0.000L0.359 -0.688L0.290 -0.688L0.275 -0.652L0.246 -0.614L0.197 -0.582L0.142 -0.564L0.101 -0.558L0.101 -0.478L0.190 -0.486L0.267 -0.512Z"/>
<path transform="translate(29.23 0) scale(7.2)" d="M0.267 0.000L0.359 0.000L0.359 -0.688L0.290 -0.688L0.275 -0.652L0.246 -0.614L0.197 -0.582L0.142 -0.564L0.101 -0.558L0.101 -0.478L0.190 -0.486L0.267 -0.512Z"/>
</g>
<g transform="translate(402 1045.7)" fill="#C77CFF">
<text x="0" y="0" font-size="7.2" font-weight="normal">5&#8199;0&#8199;8_D2</text>
<path transform="translate(4 0) scale(7.2)" d="M0.267 0.000L0.359 0.000L0.359 -0.688L0.290 -0.688L0.275 -0.652L0.246 -0.614L0.197 -0.582L0.142 -0.564L0.101 -0.558L0.101 -0.478L0.190 -0.486L0.267 -0.512Z"/>
<path transform="translate(12.01 0) scale(7.2)" d="M0.267 0.000L0.359 0.000L0.359 -0.688L0.290 -0.688L0.275 -0.652L0.246 -0.614L0.197 -0.582L0.142 -0.564L0.101 -0.558L0.101 -0.478L0.190 -0.486L0.267 -0.512Z"/>
</g>
<g transform="translate(415.5 1027.7)" fill="#C77CFF">
<text x="0" y="0" font-size="7.2" font-weight="normal">5&#8199;0&#8199;8_D&#8199;</text>
<path transform="translate(4 0) scale(7.2)" d="M0.267 0.000L0.359 0.000L0.359 -0.688L0.290 -0.688L0.275 -0.652L0.246 -0.614L0.197 -0.582L0.142 -0.564L0.101 -0.558L0.101 -0.478L0.190 -0.486L0.267 -0.512Z"/>
<path transform="translate(12.01 0) scale(7.2)" d="M0.267 0.000L0.359 0.000L0.359 -0.688L0.290 -0.688L0.275 -0.652L0.246 -0.614L0.197 -0.582L0.142 -0.564L0.101 -0.558L0.101 -0.478L0.190 -0.486L0.267 -0.512Z"/>
<path transform="translate(29.23 0) scale(7.2)" d="M0.267 0.000L0.359 0.000L0.359 -0.688L0.290 -0.688L0.275 -0.652L0.246 -0.614L0.197 -0.582L0.142 -0.564L0.101 -0.558L0.101 -0.478L0.190 -0.486L0.267 -0.512Z"/>
</g>
<g transform="translate(460.7 1047.4)" fill="#C77CFF">
<text x="0" y="0" font-size="7.2" font-weight="normal">66773_D&#8199;</text>
<path transform="translate(29.23 0) scale(7.2)" d="M0.267 0.000L0.359 0.000L0.359 -0.688L0.290 -0.688L0.275 -0.652L0.246 -0.614L0.197 -0.582L0.142 -0.564L0.101 -0.558L0.101 -0.478L0.190 -0.486L0.267 -0.512Z"/>
</g>
<g transform="translate(470.7 1059.7)" fill="#C77CFF">
<text x="0" y="0" font-size="7.2" font-weight="normal">66773_D2</text>
</g>
<g transform="translate(424.4 1075.2)" fill="#C77CFF">
<text x="0" y="0" font-size="7.2" font-weight="normal">5&#8199;0&#8199;4_D2</text>
<path transform="translate(4 0) scale(7.2)" d="M0.267 0.000L0.359 0.000L0.359 -0.688L0.290 -0.688L0.275 -0.652L0.246 -0.614L0.197 -0.582L0.142 -0.564L0.101 -0.558L0.101 -0.478L0.190 -0.486L0.267 -0.512Z"/>
<path transform="translate(12.01 0) scale(7.2)" d="M0.267 0.000L0.359 0.000L0.359 -0.688L0.290 -0.688L0.275 -0.652L0.246 -0.614L0.197 -0.582L0.142 -0.564L0.101 -0.558L0.101 -0.478L0.190 -0.486L0.267 -0.512Z"/>
</g>
<g transform="translate(404.3 1057.8)" fill="#C77CFF">
<text x="0" y="0" font-size="7.2" font-weight="normal">5&#8199;0&#8199;4_D&#8199;</text>
<path transform="translate(4 0) scale(7.2)" d="M0.267 0.000L0.359 0.000L0.359 -0.688L0.290 -0.688L0.275 -0.652L0.246 -0.614L0.197 -0.582L0.142 -0.564L0.101 -0.558L0.101 -0.478L0.190 -0.486L0.267 -0.512Z"/>
<path transform="translate(12.01 0) scale(7.2)" d="M0.267 0.000L0.359 0.000L0.359 -0.688L0.290 -0.688L0.275 -0.652L0.246 -0.614L0.197 -0.582L0.142 -0.564L0.101 -0.558L0.101 -0.478L0.190 -0.486L0.267 -0.512Z"/>
<path transform="translate(29.23 0) scale(7.2)" d="M0.267 0.000L0.359 0.000L0.359 -0.688L0.290 -0.688L0.275 -0.652L0.246 -0.614L0.197 -0.582L0.142 -0.564L0.101 -0.558L0.101 -0.478L0.190 -0.486L0.267 -0.512Z"/>
</g>
</g>
<path d="M66.5 566.0V1082.0H531.0" stroke="#000" stroke-width="1.35" fill="none"/>
<path d="M149.4 1082.0v3.8" stroke="#333333" stroke-width="1.1"/>
<g transform="translate(149.4 1098.4)" fill="#4D4D4D">
<text x="-3.5" y="0" font-size="12.6" font-weight="normal">0</text>
</g>
<path d="M273.2 1082.0v3.8" stroke="#333333" stroke-width="1.1"/>
<g transform="translate(273.2 1098.4)" fill="#4D4D4D">
<text x="-3.5" y="0" font-size="12.6" font-weight="normal">5</text>
</g>
<path d="M396.9 1082.0v3.8" stroke="#333333" stroke-width="1.1"/>
<g transform="translate(396.9 1098.4)" fill="#4D4D4D">
<text x="-7.01" y="0" font-size="12.6" font-weight="normal">&#8199;0</text>
<path transform="translate(-7.01 0) scale(12.6)" d="M0.267 0.000L0.359 0.000L0.359 -0.688L0.290 -0.688L0.275 -0.652L0.246 -0.614L0.197 -0.582L0.142 -0.564L0.101 -0.558L0.101 -0.478L0.190 -0.486L0.267 -0.512Z"/>
</g>
<path d="M520.6 1082.0v3.8" stroke="#333333" stroke-width="1.1"/>
<g transform="translate(520.6 1098.4)" fill="#4D4D4D">
<text x="-7.01" y="0" font-size="12.6" font-weight="normal">&#8199;5</text>
<path transform="translate(-7.01 0) scale(12.6)" d="M0.267 0.000L0.359 0.000L0.359 -0.688L0.290 -0.688L0.275 -0.652L0.246 -0.614L0.197 -0.582L0.142 -0.564L0.101 -0.558L0.101 -0.478L0.190 -0.486L0.267 -0.512Z"/>
</g>
<path d="M66.5 675.5h-3.8" stroke="#333333" stroke-width="1.1"/>
<g transform="translate(59 680)" fill="#4D4D4D">
<text x="-7.01" y="0" font-size="12.6" font-weight="normal">8</text>
</g>
<path d="M66.5 805h-3.8" stroke="#333333" stroke-width="1.1"/>
<g transform="translate(59 809.5)" fill="#4D4D4D">
<text x="-7.01" y="0" font-size="12.6" font-weight="normal">4</text>
</g>
<path d="M66.5 934.5h-3.8" stroke="#333333" stroke-width="1.1"/>
<g transform="translate(59 939)" fill="#4D4D4D">
<text x="-7.01" y="0" font-size="12.6" font-weight="normal">0</text>
</g>
<path d="M66.5 1064h-3.8" stroke="#333333" stroke-width="1.1"/>
<g transform="translate(59 1068.5)" fill="#4D4D4D">
<text x="-14.37" y="0" font-size="12.6" font-weight="normal">&#8722;4</text>
</g>
<g transform="translate(299.7 1116.1) scale(1.0000 1.0600)" fill="#000">
<text x="-9.72" y="0" font-size="15.9" font-weight="normal">X&#8199;</text>
<path transform="translate(0.88 0) scale(15.9)" d="M0.267 0.000L0.359 0.000L0.359 -0.688L0.290 -0.688L0.275 -0.652L0.246 -0.614L0.197 -0.582L0.142 -0.564L0.101 -0.558L0.101 -0.478L0.190 -0.486L0.267 -0.512Z"/>
</g>
<g transform="translate(38.8 822.4) rotate(-90) scale(1.0000 1.0600)" fill="#000">
<text x="-9.72" y="0" font-size="15.9" font-weight="normal">X2</text>
</g>
<g transform="translate(17 594.8)" fill="#000">
<text x="0" y="0" font-size="53.4" font-weight="bold">b</text>
</g>
<g transform="translate(558.3 702.2) scale(1.0000 1.0300)" fill="#000">
<text x="0" y="0" font-size="15.6" font-weight="normal">Sample</text>
</g>
<circle cx="566.1" cy="720.4" r="7" fill="#000"/>
<path d="M558.9 737.6H573.3M566.1 730.4V744.8M561.01 732.51L571.19 742.69M561.01 742.69L571.19 732.51" stroke="#000" stroke-width="2.5" fill="none" stroke-linecap="round"/>
<rect x="559.15" y="750.05" width="13.9" height="13.9" fill="#000"/>
<rect x="559.8" y="768.6" width="12.6" height="12.6" fill="#fff" stroke="#000" stroke-width="2.9"/>
<g transform="translate(581.4 724.7) scale(1.0000 1.0300)" fill="#000">
<text x="0" y="0" font-size="12.5" font-weight="normal">D&#8199;</text>
<path transform="translate(9.03 0) scale(12.5)" d="M0.267 0.000L0.359 0.000L0.359 -0.688L0.290 -0.688L0.275 -0.652L0.246 -0.614L0.197 -0.582L0.142 -0.564L0.101 -0.558L0.101 -0.478L0.190 -0.486L0.267 -0.512Z"/>
</g>
<g transform="translate(581.4 742.7) scale(1.0000 1.0300)" fill="#000">
<text x="0" y="0" font-size="12.5" font-weight="normal">D2</text>
</g>
<g transform="translate(581.4 760.6) scale(1.0000 1.0300)" fill="#000">
<text x="0" y="0" font-size="12.5" font-weight="normal">D3</text>
</g>
<g transform="translate(581.4 778.5) scale(1.0000 1.0300)" fill="#000">
<text x="0" y="0" font-size="12.5" font-weight="normal">X&#8199;</text>
<path transform="translate(8.34 0) scale(12.5)" d="M0.267 0.000L0.359 0.000L0.359 -0.688L0.290 -0.688L0.275 -0.652L0.246 -0.614L0.197 -0.582L0.142 -0.564L0.101 -0.558L0.101 -0.478L0.190 -0.486L0.267 -0.512Z"/>
</g>
<g transform="translate(557.9 833.6) scale(1.0000 1.0300)" fill="#000">
<text x="0" y="0" font-size="15.6" font-weight="normal">ICR status</text>
</g>
<circle cx="566.4" cy="853.5" r="8.9" fill="#F8766D"/>
<g transform="translate(585.8 858.1) scale(1.0000 1.0300)" fill="#000">
<text x="0" y="0" font-size="12.5" font-weight="normal">LOH (Conserting)</text>
</g>
<circle cx="566.4" cy="876.1" r="8.9" fill="#7CAE00"/>
<g transform="translate(585.8 880.7) scale(1.0000 1.0300)" fill="#000">
<text x="0" y="0" font-size="12.5" font-weight="normal">LOH</text>
</g>
<circle cx="566.4" cy="898.8" r="8.9" fill="#00BFC4"/>
<g transform="translate(585.8 903.4) scale(1.0000 1.0300)" fill="#000">
<text x="0" y="0" font-size="12.5" font-weight="normal">LOI</text>
</g>
<circle cx="566.4" cy="921.4" r="8.9" fill="#C77CFF"/>
<g transform="translate(585.8 926) scale(1.0000 1.0300)" fill="#000">
<text x="0" y="0" font-size="12.5" font-weight="normal">ROI</text>
</g>
</svg>
</body></html>
